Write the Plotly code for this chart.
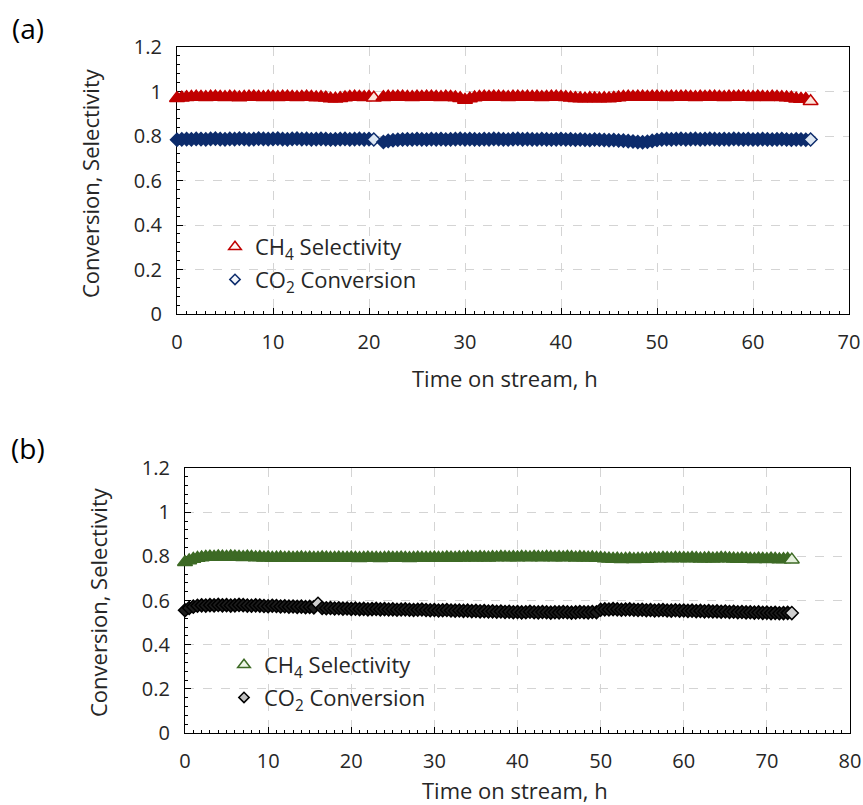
import plotly.graph_objects as go

# ---------------- data ----------------
# panel (a)
time_a = [0, 0.5, 1, 1.5, 2, 2.5, 3, 3.5, 4, 4.5,
          5, 5.5, 6, 6.5, 7, 7.5, 8, 8.5, 9, 9.5,
          10, 10.5, 11, 11.5, 12, 12.5, 13, 13.5, 14, 14.5,
          15, 15.5, 16, 16.5, 17, 17.5, 18, 18.5, 19, 19.5,
          20, 20.5,
          21.5,
          22, 22.5, 23, 23.5, 24, 24.5, 25, 25.5, 26, 26.5,
          27, 27.5, 28, 28.5, 29, 29.5, 30, 30.5, 31, 31.5,
          32, 32.5, 33, 33.5, 34, 34.5, 35, 35.5, 36, 36.5,
          37, 37.5, 38, 38.5, 39, 39.5, 40, 40.5, 41, 41.5,
          42, 42.5, 43, 43.5, 44, 44.5, 45, 45.5, 46, 46.5,
          47, 47.5, 48, 48.5, 49, 49.5, 50, 50.5, 51, 51.5,
          52, 52.5, 53, 53.5, 54, 54.5, 55, 55.5, 56, 56.5,
          57, 57.5, 58, 58.5, 59, 59.5, 60, 60.5, 61, 61.5,
          62, 62.5, 63, 63.5, 64, 64.5, 65, 65.5, 66]

ch4_sel_a = [0.970, 0.972, 0.974, 0.975, 0.976, 0.975, 0.974, 0.976, 0.977, 0.975,
             0.974, 0.976, 0.975, 0.973, 0.975, 0.976, 0.977, 0.975, 0.974, 0.976,
             0.975, 0.974, 0.976, 0.977, 0.975, 0.974, 0.975, 0.976, 0.975, 0.973,
             0.974, 0.972, 0.968, 0.967, 0.970, 0.973, 0.975, 0.976, 0.975, 0.974,
             0.975, 0.972,
             0.974,
             0.976, 0.975, 0.977, 0.976, 0.975, 0.974, 0.976, 0.975, 0.977, 0.976,
             0.975, 0.974, 0.976, 0.975, 0.973, 0.970, 0.962, 0.968, 0.973, 0.975,
             0.976, 0.975, 0.977, 0.976, 0.975, 0.974, 0.976, 0.977, 0.975, 0.976,
             0.975, 0.976, 0.974, 0.975, 0.977, 0.976, 0.975, 0.974, 0.972, 0.970,
             0.969, 0.968, 0.970, 0.969, 0.968, 0.970, 0.969, 0.971, 0.973, 0.975,
             0.976, 0.975, 0.977, 0.976, 0.975, 0.976, 0.977, 0.975, 0.974, 0.976,
             0.975, 0.977, 0.976, 0.975, 0.974, 0.976, 0.975, 0.977, 0.976, 0.975,
             0.974, 0.976, 0.975, 0.977, 0.976, 0.975, 0.974, 0.976, 0.975, 0.974,
             0.976, 0.975, 0.974, 0.973, 0.972, 0.967, 0.966, 0.966, 0.956]

co2_conv_a = [0.783, 0.785, 0.786, 0.785, 0.787, 0.786, 0.785, 0.787, 0.788, 0.786,
              0.785, 0.787, 0.786, 0.788, 0.787, 0.785, 0.786, 0.788, 0.787, 0.786,
              0.787, 0.788, 0.786, 0.785, 0.787, 0.788, 0.786, 0.787, 0.785, 0.786,
              0.787, 0.786, 0.784, 0.785, 0.786, 0.787, 0.785, 0.786, 0.787, 0.785,
              0.786, 0.784,
              0.773,
              0.778, 0.781, 0.783, 0.784, 0.785, 0.784, 0.786, 0.785, 0.784, 0.786,
              0.785, 0.786, 0.784, 0.785, 0.786, 0.787, 0.785, 0.786, 0.785, 0.784,
              0.786, 0.785, 0.787, 0.786, 0.785, 0.784, 0.786, 0.787, 0.785, 0.786,
              0.785, 0.784, 0.786, 0.785, 0.784, 0.785, 0.786, 0.784, 0.785, 0.783,
              0.784, 0.783, 0.782, 0.784, 0.783, 0.782, 0.781, 0.782, 0.780, 0.779,
              0.777, 0.775, 0.773, 0.772, 0.774, 0.778, 0.782, 0.785, 0.786, 0.785,
              0.786, 0.787, 0.785, 0.786, 0.787, 0.785, 0.786, 0.787, 0.786, 0.785,
              0.786, 0.785, 0.787, 0.786, 0.785, 0.786, 0.784, 0.785, 0.786, 0.785,
              0.784, 0.785, 0.786, 0.784, 0.783, 0.785, 0.784, 0.783, 0.784]

open_points_a = [20.5, 66]

# panel (b)
time_b = [0, 0.5, 1, 1.5, 2, 2.5, 3, 3.5, 4, 4.5,
          5, 5.5, 6, 6.5, 7, 7.5, 8, 8.5, 9, 9.5,
          10, 10.5, 11, 11.5, 12, 12.5, 13, 13.5, 14, 14.5,
          15, 15.5, 16, 16.5, 17, 17.5, 18, 18.5, 19, 19.5,
          20, 20.5, 21, 21.5, 22, 22.5, 23, 23.5, 24, 24.5,
          25, 25.5, 26, 26.5, 27, 27.5, 28, 28.5, 29, 29.5,
          30, 30.5, 31, 31.5, 32, 32.5, 33, 33.5, 34, 34.5,
          35, 35.5, 36, 36.5, 37, 37.5, 38, 38.5, 39, 39.5,
          40, 40.5, 41, 41.5, 42, 42.5, 43, 43.5, 44, 44.5,
          45, 45.5, 46, 46.5, 47, 47.5, 48, 48.5, 49, 49.5,
          50, 50.5, 51, 51.5, 52, 52.5, 53, 53.5, 54, 54.5,
          55, 55.5, 56, 56.5, 57, 57.5, 58, 58.5, 59, 59.5,
          60, 60.5, 61, 61.5, 62, 62.5, 63, 63.5, 64, 64.5,
          65, 65.5, 66, 66.5, 67, 67.5, 68, 68.5, 69, 69.5,
          70, 70.5, 71, 71.5, 72, 72.5, 73]

ch4_sel_b = [0.773, 0.781, 0.788, 0.792, 0.795, 0.797, 0.798, 0.797, 0.799, 0.798,
             0.797, 0.799, 0.798, 0.797, 0.796, 0.798, 0.797, 0.795, 0.796, 0.794,
             0.795, 0.793, 0.794, 0.795, 0.793, 0.794, 0.792, 0.794, 0.795, 0.793,
             0.794, 0.792, 0.793, 0.795, 0.794, 0.792, 0.793, 0.794, 0.792, 0.793,
             0.794, 0.793, 0.791, 0.793, 0.794, 0.792, 0.793, 0.791, 0.792, 0.794,
             0.793, 0.792, 0.794, 0.793, 0.791, 0.792, 0.794, 0.793, 0.792, 0.793,
             0.794, 0.792, 0.793, 0.795, 0.794, 0.793, 0.795, 0.794, 0.796, 0.795,
             0.794, 0.796, 0.795, 0.794, 0.796, 0.795, 0.797, 0.796, 0.795, 0.796,
             0.795, 0.797, 0.796, 0.795, 0.797, 0.796, 0.795, 0.797, 0.796, 0.795,
             0.796, 0.795, 0.797, 0.796, 0.794, 0.796, 0.795, 0.794, 0.795, 0.793,
             0.792, 0.790, 0.789, 0.788, 0.789, 0.787, 0.788, 0.789, 0.787, 0.788,
             0.789, 0.788, 0.790, 0.791, 0.790, 0.792, 0.791, 0.790, 0.792, 0.791,
             0.791, 0.790, 0.792, 0.791, 0.789, 0.790, 0.791, 0.789, 0.790, 0.792,
             0.791, 0.790, 0.789, 0.788, 0.790, 0.789, 0.788, 0.787, 0.789, 0.788,
             0.787, 0.789, 0.788, 0.786, 0.787, 0.788, 0.785]

co2_conv_b = [0.556, 0.566, 0.572, 0.576, 0.578, 0.577, 0.579, 0.578, 0.580, 0.578,
              0.579, 0.577, 0.578, 0.580, 0.579, 0.577, 0.576, 0.578, 0.577, 0.575,
              0.574, 0.576, 0.575, 0.573, 0.574, 0.572, 0.573, 0.571, 0.572, 0.570,
              0.571, 0.569, 0.585, 0.566, 0.565, 0.566, 0.564, 0.565, 0.563, 0.564,
              0.562, 0.563, 0.561, 0.562, 0.560, 0.561, 0.562, 0.560, 0.561, 0.559,
              0.560, 0.558, 0.559, 0.560, 0.558, 0.557, 0.558, 0.559, 0.557, 0.556,
              0.557, 0.555, 0.556, 0.557, 0.555, 0.554, 0.555, 0.553, 0.554, 0.552,
              0.553, 0.551, 0.552, 0.550, 0.551, 0.549, 0.550, 0.548, 0.549, 0.547,
              0.548, 0.546, 0.547, 0.549, 0.547, 0.546, 0.548, 0.547, 0.545, 0.547,
              0.546, 0.548, 0.547, 0.545, 0.546, 0.548, 0.547, 0.546, 0.548, 0.547,
              0.558, 0.560, 0.559, 0.561, 0.560, 0.558, 0.559, 0.560, 0.558, 0.557,
              0.558, 0.556, 0.557, 0.555, 0.556, 0.557, 0.555, 0.554, 0.556, 0.554,
              0.555, 0.553, 0.554, 0.552, 0.553, 0.551, 0.552, 0.550, 0.551, 0.549,
              0.550, 0.548, 0.549, 0.547, 0.548, 0.546, 0.547, 0.545, 0.546, 0.544,
              0.545, 0.543, 0.544, 0.542, 0.543, 0.544, 0.543]

open_points_b_ch4 = [73]
open_points_b_co2 = [16, 73]

x_ticks_a = [0, 10, 20, 30, 40, 50, 60, 70]
x_ticks_b = [0, 10, 20, 30, 40, 50, 60, 70, 80]
y_ticks = [0, 0.2, 0.4, 0.6, 0.8, 1, 1.2]

name_ch4 = "CH<sub>4</sub> Selectivity"
name_co2 = "CO<sub>2</sub> Conversion"
x_title = "Time on stream, h"
y_title = "Conversion, Selectivity"

# ---------------- style ----------------
W, H = 863, 805
FONT = "Open Sans"
TXT = "#262626"

RED, RED_L = "#C00000", "#FBE2D8"
BLUE, BLUE_L = "#0D2C6C", "#DCE6F2"
GREEN, GREEN_L = "#3D6A25", "#E4F0DB"
BLACK, BLACK_F, BLACK_L = "#000000", "#1C1C1C", "#D0D0D0"

TRI, DIA = 13, 10


def fills(times, opens, dense, light):
    return [light if t in opens else dense for t in times]


fig = go.Figure()


def add_series(t, v, xa, ya, symbol, size, line_c, fill_c):
    fig.add_trace(go.Scatter(
        x=t, y=v, mode="markers", xaxis=xa, yaxis=ya, showlegend=False,
        cliponaxis=False, hoverinfo="skip",
        marker=dict(symbol=symbol, size=size, color=fill_c,
                    line=dict(color=line_c, width=1.5))))


def add_legend(name, legend, group, symbol, size, line_c, fill_c, xa, ya):
    fig.add_trace(go.Scatter(
        x=[None], y=[None], mode="markers", name=name, legend=legend,
        legendgroup=group, xaxis=xa, yaxis=ya,
        marker=dict(symbol=symbol, size=size, color=fill_c,
                    line=dict(color=line_c, width=1.5))))


add_series(time_a, ch4_sel_a, "x", "y", "triangle-up", TRI, RED,
           fills(time_a, open_points_a, RED, RED_L))
add_series(time_a, co2_conv_a, "x", "y", "diamond", DIA, BLUE,
           fills(time_a, open_points_a, BLUE, BLUE_L))
add_series(time_b, ch4_sel_b, "x2", "y2", "triangle-up", TRI, GREEN,
           fills(time_b, open_points_b_ch4, GREEN, GREEN_L))
add_series(time_b, co2_conv_b, "x2", "y2", "diamond", DIA, BLACK,
           fills(time_b, open_points_b_co2, BLACK_F, BLACK_L))

add_legend(name_ch4, "legend", "a1", "triangle-up", 11, RED, "#FFF6F3", "x", "y")
add_legend(name_co2, "legend", "a2", "diamond", 8, BLUE, "#F3F6FB", "x", "y")
add_legend(name_ch4, "legend2", "b1", "triangle-up", 11, GREEN, "#EEF6E8", "x2", "y2")
add_legend(name_co2, "legend2", "b2", "diamond", 8, BLACK, "#BFBFBF", "x2", "y2")

# plot-area pixel boxes
A = dict(l=177, r=849, t=47, b=314)
B = dict(l=185, r=850, t=468, b=733)


def xdom(p):
    return [p["l"] / W, p["r"] / W]


def ydom(p):
    return [1 - p["b"] / H, 1 - p["t"] / H]


axis_common = dict(
    showline=True, linecolor="#000000", linewidth=1.3, mirror=True,
    ticks="inside", ticklen=6, tickwidth=1, tickcolor="#000000",
    showgrid=True, gridcolor="#D4D4D4", gridwidth=1, griddash="dash",
    zeroline=False, layer="below traces", automargin=False,
    tickfont=dict(family=FONT, size=20, color=TXT),
    ticklabelstandoff=10,
)
minor_x = dict(dtick=1, ticks="inside", ticklen=3, tickcolor="#000000", showgrid=False)
minor_y = dict(dtick=0.04, ticks="inside", ticklen=3, tickcolor="#000000", showgrid=False)
legend_common = dict(xanchor="left", yanchor="top", bgcolor="rgba(0,0,0,0)",
                     borderwidth=0, traceorder="grouped", tracegroupgap=1,
                     font=dict(family=FONT, size=22, color=TXT))

fig.update_layout(
    template="none",
    width=W, height=H, margin=dict(l=0, r=0, t=0, b=0, autoexpand=False),
    paper_bgcolor="white", plot_bgcolor="white",
    font=dict(family=FONT, color=TXT),
    xaxis=dict(domain=xdom(A), range=[0, 70], tickvals=x_ticks_a, anchor="y",
               minor=minor_x, **axis_common),
    yaxis=dict(domain=ydom(A), range=[0, 1.2], tickvals=y_ticks, anchor="x",
               minor=minor_y, **axis_common),
    xaxis2=dict(domain=xdom(B), range=[0, 80], tickvals=x_ticks_b, anchor="y2",
                minor=minor_x, **axis_common),
    yaxis2=dict(domain=ydom(B), range=[0, 1.2], tickvals=y_ticks, anchor="x2",
                minor=minor_y, **axis_common),
    legend=dict(x=215 / W, y=1 - 226 / H, **legend_common),
    legend2=dict(x=224 / W, y=1 - 644 / H, **legend_common),
)

# titles and panel labels
ann_font = dict(family=FONT, size=22, color=TXT)
fig.add_annotation(x=90 / W, y=1 - 183 / H, xref="paper", yref="paper", text=y_title,
                   textangle=-90, showarrow=False, font=ann_font, xanchor="center", yanchor="middle")
fig.add_annotation(x=98 / W, y=1 - 602 / H, xref="paper", yref="paper", text=y_title,
                   textangle=-90, showarrow=False, font=ann_font, xanchor="center", yanchor="middle")
fig.add_annotation(x=505 / W, y=1 - 378 / H, xref="paper", yref="paper",
                   text=x_title, showarrow=False, font=ann_font, xanchor="center", yanchor="middle")
fig.add_annotation(x=515 / W, y=1 - 790 / H, xref="paper", yref="paper",
                   text=x_title, showarrow=False, font=ann_font, xanchor="center", yanchor="middle")
fig.add_annotation(x=28 / W, y=1 - 28 / H, xref="paper", yref="paper", text="(a)",
                   showarrow=False, font=dict(family=FONT, size=28, color="#000000"),
                   xanchor="center", yanchor="middle")
fig.add_annotation(x=28 / W, y=1 - 448 / H, xref="paper", yref="paper", text="(b)",
                   showarrow=False, font=dict(family=FONT, size=28, color="#000000"),
                   xanchor="center", yanchor="middle")

fig.write_html("out.html")
